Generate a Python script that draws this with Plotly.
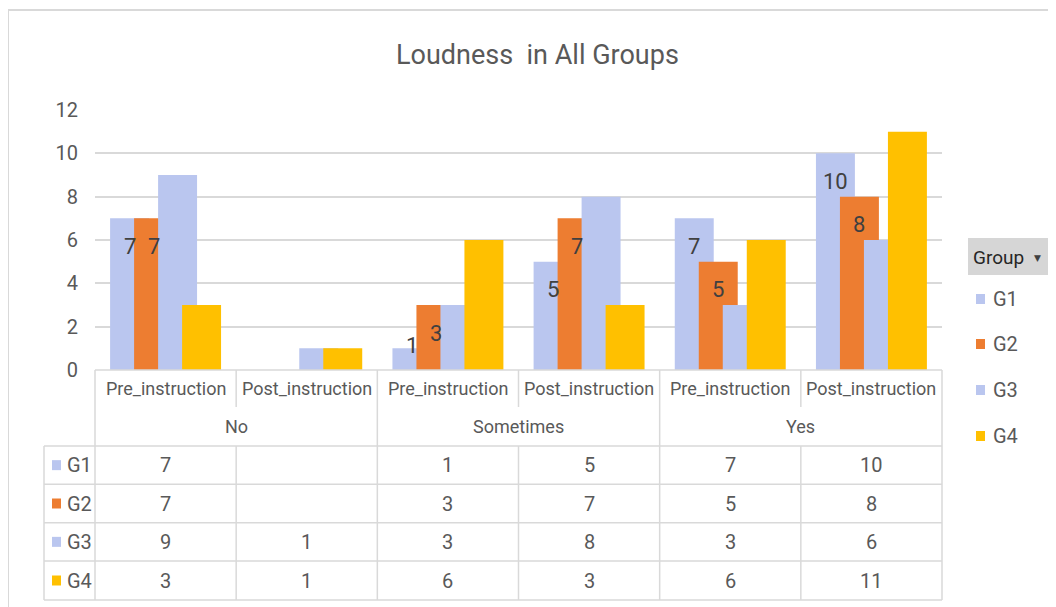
import plotly.graph_objects as go

# ---- data ----
answers = ["No", "Sometimes", "Yes"]
phases = ["Pre_instruction", "Post_instruction"]
groups = ["G1", "G2", "G3", "G4"]
g1 = [7, None, 1, 5, 7, 10]
g2 = [7, None, 3, 7, 5, 8]
g3 = [9, 1, 3, 8, 3, 6]
g4 = [3, 1, 6, 3, 6, 11]
series = [g1, g2, g3, g4]
labelled = [True, True, False, False]   # only G1 / G2 carry data labels
colors = ['#BAC6EF', '#ED7D31', '#BAC6EF', '#FFC000']

W, H = 1056, 607
PAGE = 8          # default body margin of the html page
FONT = "Roboto, Arial"
GREY = '#595959'
LINE = '#D9D9D9'

# plot area in screen pixels
X0, X1 = 95, 942
Y0, Y1 = 370, 110
n_cat = len(answers) * len(phases)
col_w = (X1 - X0) / n_cat

bar_w = 0.276
step = 0.17
first_off = -0.393


def px(x):
    return (x - PAGE) / W


def py(y):
    return 1 - (y - PAGE) / H


def text(x, y, s, size=20, color=GREY, xanchor='center', family=FONT):
    return dict(x=px(x), y=py(y), xref='paper', yref='paper', text=s, showarrow=False,
                xanchor=xanchor, yanchor='middle',
                font=dict(family=family, size=size, color=color))


fig = go.Figure()
cats = list(range(n_cat))
for i, (name, vals) in enumerate(zip(groups, series)):
    fig.add_trace(go.Bar(
        x=cats, y=vals, name=name,
        width=bar_w, offset=first_off + i * step,
        marker=dict(color=colors[i], line=dict(width=0)),
        showlegend=False, hoverinfo='skip'
    ))

annotations = []
shapes = []

# data labels for G1 / G2
for i, vals in enumerate(series):
    if not labelled[i]:
        continue
    for c, v in zip(cats, vals):
        if v is None:
            continue
        annotations.append(dict(
            x=c + first_off + i * step + bar_w / 2, y=v, xref='x', yref='y',
            text=str(v), showarrow=False, xanchor='center', yanchor='middle',
            yshift=-28 if v >= 2 else 3,
            font=dict(family=FONT, size=22, color='#404040')))

# title
annotations.append(text(537, 55, "Loudness  in All Groups", size=27))

# outer chart border
shapes.append(dict(type='line', xref='paper', yref='paper', x0=px(8), x1=1, y0=py(10), y1=py(10),
                   line=dict(color=LINE, width=2)))
shapes.append(dict(type='line', xref='paper', yref='paper', x0=px(8), x1=px(8), y0=py(10), y1=0,
                   line=dict(color=LINE, width=2)))

# category axis boxes + data table
row_y = [446, 484.3, 522.7, 561, 600]


def hline(x0, x1, y):
    shapes.append(dict(type='line', xref='paper', yref='paper', x0=px(x0), x1=px(x1),
                       y0=py(y), y1=py(y), line=dict(color=LINE, width=1.5)))


def vline(x, y0, y1):
    shapes.append(dict(type='line', xref='paper', yref='paper', x0=px(x), x1=px(x),
                       y0=py(y0), y1=py(y1), line=dict(color=LINE, width=1.5)))


hline(X0, X1, Y0)
for y in row_y:
    hline(44, X1, y)
vline(44, row_y[0], row_y[-1])
for k in range(n_cat + 1):
    xk = X0 + k * col_w
    if k % 2 == 0:
        vline(xk, Y0, row_y[-1])
    else:
        vline(xk, Y0, 407)
        vline(xk, row_y[0], row_y[-1])

for k in range(n_cat):
    annotations.append(text(X0 + (k + 0.5) * col_w, 388, phases[k % 2], size=18))
for j, a in enumerate(answers):
    annotations.append(text(X0 + (2 * j + 1) * col_w, 426, a, size=18))

for r, (name, vals) in enumerate(zip(groups, series)):
    yc = (row_y[r] + row_y[r + 1]) / 2
    shapes.append(dict(type='rect', xref='paper', yref='paper', x0=px(52), x1=px(61),
                       y0=py(yc - 5), y1=py(yc + 5), fillcolor=colors[r], line=dict(width=0)))
    annotations.append(text(65, yc, name, size=20, xanchor='left'))
    for k, v in enumerate(vals):
        if v is None:
            continue
        annotations.append(text(X0 + (k + 0.5) * col_w, yc, str(v), size=20))

# legend ("Group" field button + keys)
shapes.append(dict(type='rect', xref='paper', yref='paper', x0=px(968), x1=px(1050),
                   y0=py(275), y1=py(238), fillcolor='#D6D6D6', line=dict(width=0)))
annotations.append(text(971, 257, "Group", size=19, color='#262626', xanchor='left'))
annotations.append(text(1037, 258, "▼", size=9, color='#404040', family="DejaVu Sans"))
legend_y = [299, 344, 390, 436]
for name, c, yc in zip(groups, colors, legend_y):
    shapes.append(dict(type='rect', xref='paper', yref='paper', x0=px(976), x1=px(985),
                       y0=py(yc - 5), y1=py(yc + 5), fillcolor=c, line=dict(width=0)))
    annotations.append(text(991, yc, name, size=20, xanchor='left'))

fig.update_layout(
    width=W, height=H,
    margin=dict(l=0, r=0, t=0, b=0, autoexpand=False),
    paper_bgcolor='white', plot_bgcolor='white',
    barmode='overlay',
    xaxis=dict(domain=[px(X0), px(X1)], range=[-0.5, n_cat - 0.5], automargin=False,
               showticklabels=False, showgrid=False, zeroline=False, fixedrange=True),
    yaxis=dict(domain=[py(Y0), py(Y1)], range=[0, 12], dtick=2, automargin=False,
               showgrid=True, gridcolor=LINE, gridwidth=1.5, zeroline=False,
               tickfont=dict(family=FONT, size=20, color=GREY),
               ticks='', ticklabelstandoff=16),
    annotations=annotations,
    shapes=shapes,
)

fig.write_html("out.html")
